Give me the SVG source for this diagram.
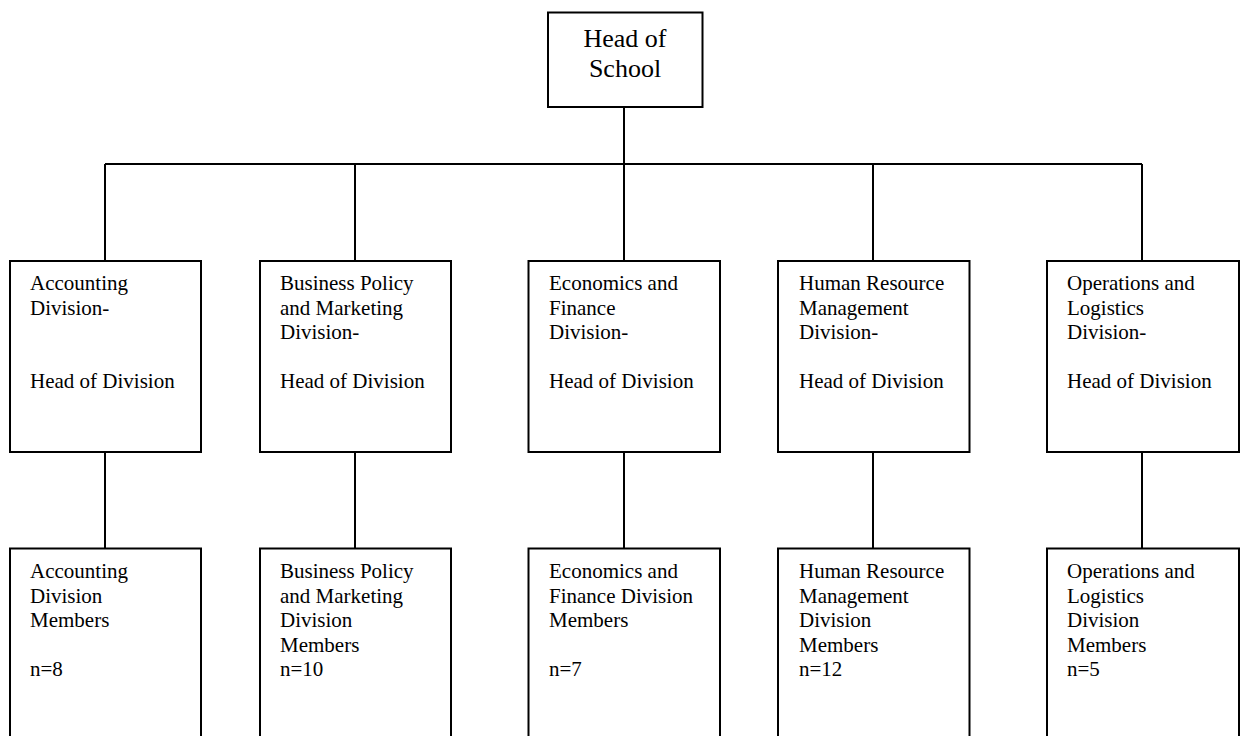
<svg xmlns="http://www.w3.org/2000/svg" width="1242" height="736" viewBox="0 0 1242 736">
<style>
  .box { fill: #ffffff; stroke: #000000; stroke-width: 2; }
  .conn { fill: none; stroke: #000000; stroke-width: 2; }
  .t { font-family: "Liberation Serif", "Times New Roman", serif; font-size: 21px; fill: #000000; }
  .th { font-family: "Liberation Serif", "Times New Roman", serif; font-size: 26px; fill: #000000; text-anchor: middle; }
</style>
<rect width="1242" height="736" fill="#ffffff"/>
<g id="connectors">
  <path class="conn" d="M624,107 V164"/>
  <path class="conn" d="M105,164 H1142"/>
  <path class="conn" d="M105,164 V261 M355,164 V261 M624,164 V261 M873,164 V261 M1142,164 V261"/>
  <path class="conn" d="M105,452 V548 M355,452 V548 M624,452 V548 M873,452 V548 M1142,452 V548"/>
</g>
<g id="head">
  <rect class="box" x="548" y="12.5" width="154.5" height="94.5"/>
  <text class="th" x="625" y="47">Head of</text>
  <text class="th" x="625" y="77">School</text>
</g>
<g id="head-accounting">
  <rect class="box" x="10" y="261" width="191" height="191"/>
  <text class="t" x="30" y="290">Accounting</text>
  <text class="t" x="30" y="314.5">Division-</text>
  <text class="t" x="30" y="388">Head of Division</text>
</g>
<g id="head-business">
  <rect class="box" x="260" y="261" width="191" height="191"/>
  <text class="t" x="280" y="290">Business Policy</text>
  <text class="t" x="280" y="314.5">and Marketing</text>
  <text class="t" x="280" y="339">Division-</text>
  <text class="t" x="280" y="388">Head of Division</text>
</g>
<g id="head-economics">
  <rect class="box" x="528.5" y="261" width="191.5" height="191"/>
  <text class="t" x="549" y="290">Economics and</text>
  <text class="t" x="549" y="314.5">Finance</text>
  <text class="t" x="549" y="339">Division-</text>
  <text class="t" x="549" y="388">Head of Division</text>
</g>
<g id="head-hrm">
  <rect class="box" x="778" y="261" width="191.5" height="191"/>
  <text class="t" x="799" y="290">Human Resource</text>
  <text class="t" x="799" y="314.5">Management</text>
  <text class="t" x="799" y="339">Division-</text>
  <text class="t" x="799" y="388">Head of Division</text>
</g>
<g id="head-operations">
  <rect class="box" x="1047" y="261" width="192" height="191"/>
  <text class="t" x="1067" y="290">Operations and</text>
  <text class="t" x="1067" y="314.5">Logistics</text>
  <text class="t" x="1067" y="339">Division-</text>
  <text class="t" x="1067" y="388">Head of Division</text>
</g>
<g id="members-accounting">
  <rect class="box" x="10" y="548.5" width="191" height="200"/>
  <text class="t" x="30" y="578">Accounting</text>
  <text class="t" x="30" y="602.5">Division</text>
  <text class="t" x="30" y="627">Members</text>
  <text class="t" x="30" y="676">n=8</text>
</g>
<g id="members-business">
  <rect class="box" x="260" y="548.5" width="191" height="200"/>
  <text class="t" x="280" y="578">Business Policy</text>
  <text class="t" x="280" y="602.5">and Marketing</text>
  <text class="t" x="280" y="627">Division</text>
  <text class="t" x="280" y="651.5">Members</text>
  <text class="t" x="280" y="676">n=10</text>
</g>
<g id="members-economics">
  <rect class="box" x="528.5" y="548.5" width="191.5" height="200"/>
  <text class="t" x="549" y="578">Economics and</text>
  <text class="t" x="549" y="602.5">Finance Division</text>
  <text class="t" x="549" y="627">Members</text>
  <text class="t" x="549" y="676">n=7</text>
</g>
<g id="members-hrm">
  <rect class="box" x="778" y="548.5" width="191.5" height="200"/>
  <text class="t" x="799" y="578">Human Resource</text>
  <text class="t" x="799" y="602.5">Management</text>
  <text class="t" x="799" y="627">Division</text>
  <text class="t" x="799" y="651.5">Members</text>
  <text class="t" x="799" y="676">n=12</text>
</g>
<g id="members-operations">
  <rect class="box" x="1047" y="548.5" width="192" height="200"/>
  <text class="t" x="1067" y="578">Operations and</text>
  <text class="t" x="1067" y="602.5">Logistics</text>
  <text class="t" x="1067" y="627">Division</text>
  <text class="t" x="1067" y="651.5">Members</text>
  <text class="t" x="1067" y="676">n=5</text>
</g>
</svg>
